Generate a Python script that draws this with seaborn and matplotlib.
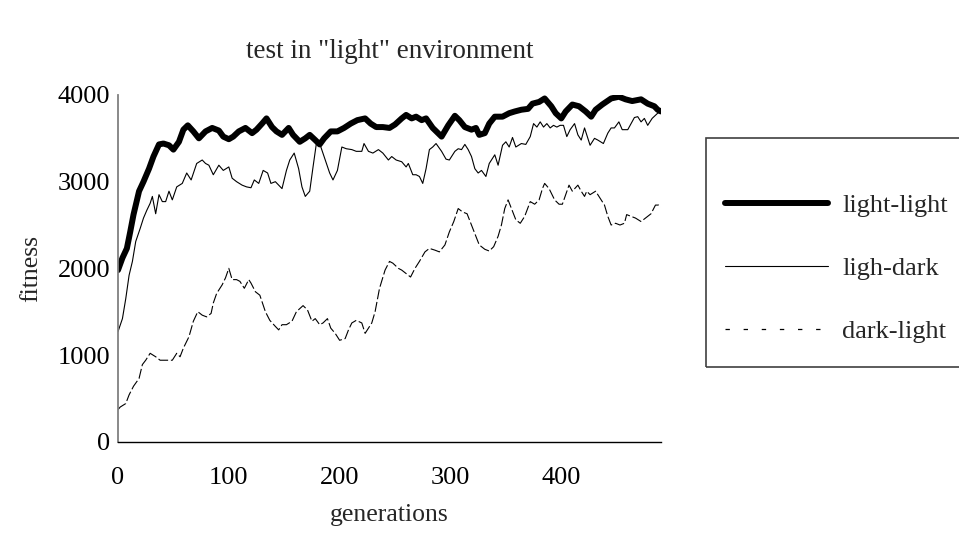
import numpy as np
import pandas as pd
import matplotlib
matplotlib.use("Agg")
import matplotlib.pyplot as plt
from matplotlib.lines import Line2D
from matplotlib.patches import Rectangle
import seaborn as sns

# data (generation, fitness)
ll_gen = [0, 4, 8, 11, 14, 19, 23, 28, 32, 37,
          41, 46, 50, 55, 59, 63, 68, 73, 79, 85,
          91, 95, 100, 104, 109, 115, 121, 125, 130, 134,
          139, 143, 148, 154, 158, 164, 169, 173, 178, 182,
          186, 192, 198, 204, 210, 216, 223, 228, 233, 239,
          245, 250, 256, 260, 265, 269, 274, 278, 284, 292,
          298, 304, 308, 313, 319, 323, 326, 331, 335, 340,
          347, 353, 358, 364, 370, 374, 380, 385, 391, 395,
          400, 404, 410, 416, 422, 427, 431, 437, 445, 452,
          458, 464, 472, 478, 484, 487, 490]
ll_fit = [1980, 2120, 2230, 2420, 2620, 2890, 3000, 3150, 3290, 3430,
          3440, 3420, 3370, 3460, 3600, 3650, 3580, 3500, 3580, 3620,
          3590, 3520, 3490, 3520, 3580, 3620, 3560, 3600, 3670, 3730,
          3630, 3580, 3540, 3620, 3540, 3460, 3500, 3540, 3480, 3430,
          3500, 3580, 3580, 3620, 3670, 3710, 3730, 3670, 3630, 3630,
          3620, 3660, 3730, 3770, 3730, 3750, 3710, 3730, 3620, 3520,
          3650, 3760, 3710, 3630, 3600, 3620, 3540, 3560, 3670, 3750,
          3750, 3790, 3810, 3830, 3840, 3900, 3920, 3960, 3870, 3790,
          3730, 3810, 3890, 3870, 3810, 3750, 3830, 3890, 3960, 3980,
          3950, 3930, 3950, 3900, 3870, 3830, 3810]

ld_gen = [0, 4, 7, 10, 13, 16, 20, 23, 26, 29,
          31, 34, 37, 40, 43, 46, 49, 53, 58, 62,
          66, 71, 76, 79, 82, 86, 91, 95, 100, 103,
          107, 112, 116, 120, 123, 127, 131, 135, 138, 142,
          148, 152, 155, 159, 163, 166, 169, 173, 176, 179,
          182, 187, 191, 194, 198, 202, 206, 211, 215, 220,
          222, 226, 230, 235, 239, 244, 247, 251, 256, 260,
          262, 266, 269, 272, 275, 278, 281, 284, 287, 292,
          296, 299, 304, 307, 310, 313, 316, 319, 322, 325,
          328, 332, 335, 338, 340, 343, 347, 350, 353, 356,
          359, 364, 368, 372, 375, 378, 381, 384, 387, 390,
          393, 396, 399, 402, 405, 408, 412, 415, 418, 421,
          423, 426, 430, 433, 438, 442, 445, 448, 452, 455,
          460, 463, 466, 469, 472, 475, 478, 482, 487, 490]
ld_fit = [1270, 1420, 1650, 1920, 2080, 2310, 2460, 2580, 2670, 2750,
          2830, 2630, 2850, 2770, 2770, 2890, 2790, 2940, 2980, 3100,
          3020, 3210, 3250, 3210, 3190, 3080, 3190, 3130, 3170, 3040,
          3000, 2960, 2940, 2930, 3020, 2980, 3130, 3100, 2980, 3000,
          2920, 3130, 3250, 3330, 3150, 2940, 2830, 2890, 3170, 3440,
          3440, 3250, 3100, 3020, 3130, 3400, 3380, 3370, 3350, 3350,
          3440, 3350, 3330, 3370, 3330, 3250, 3290, 3250, 3230, 3170,
          3210, 3080, 3080, 3060, 2980, 3150, 3370, 3400, 3440, 3350,
          3260, 3250, 3350, 3380, 3370, 3430, 3370, 3290, 3150, 3100,
          3130, 3060, 3210, 3270, 3310, 3190, 3420, 3460, 3400, 3510,
          3400, 3440, 3430, 3520, 3670, 3630, 3690, 3630, 3670, 3620,
          3650, 3630, 3650, 3650, 3520, 3600, 3670, 3540, 3480, 3620,
          3540, 3420, 3500, 3480, 3440, 3560, 3620, 3620, 3690, 3600,
          3600, 3670, 3740, 3750, 3690, 3730, 3650, 3730, 3790, 3810]

dl_gen = [0, 2, 7, 10, 14, 19, 22, 25, 29, 34,
          38, 43, 49, 53, 56, 59, 64, 68, 72, 76,
          80, 84, 86, 89, 94, 97, 100, 103, 107, 110,
          114, 118, 120, 124, 128, 133, 137, 142, 145, 148,
          152, 157, 161, 167, 171, 175, 178, 182, 185, 189,
          192, 196, 200, 205, 208, 211, 215, 220, 223, 226,
          229, 232, 236, 241, 245, 248, 253, 256, 260, 264,
          268, 272, 277, 281, 286, 290, 295, 299, 303, 307,
          311, 315, 319, 322, 326, 331, 335, 339, 343, 346,
          349, 352, 355, 359, 363, 367, 372, 376, 380, 383,
          385, 389, 394, 398, 401, 404, 407, 410, 415, 418,
          421, 423, 426, 431, 435, 439, 442, 445, 449, 453,
          457, 459, 463, 467, 472, 476, 481, 485, 488, 490]
dl_fit = [370, 400, 440, 540, 640, 730, 890, 940, 1020, 980,
          940, 940, 940, 1020, 980, 1080, 1210, 1390, 1500, 1460,
          1440, 1480, 1600, 1710, 1810, 1890, 2000, 1870, 1870, 1850,
          1770, 1870, 1830, 1730, 1690, 1500, 1400, 1330, 1290, 1350,
          1350, 1390, 1500, 1570, 1520, 1390, 1420, 1350, 1370, 1420,
          1310, 1250, 1170, 1190, 1290, 1370, 1400, 1370, 1250, 1310,
          1370, 1500, 1770, 1980, 2080, 2060, 2000, 1980, 1940, 1900,
          2000, 2080, 2190, 2230, 2210, 2190, 2270, 2420, 2540, 2690,
          2650, 2630, 2500, 2400, 2270, 2220, 2200, 2250, 2370, 2500,
          2690, 2790, 2690, 2560, 2520, 2600, 2770, 2740, 2790, 2920,
          2980, 2920, 2790, 2740, 2740, 2850, 2960, 2890, 2960, 2890,
          2830, 2890, 2850, 2890, 2810, 2730, 2600, 2500, 2520, 2500,
          2520, 2620, 2600, 2580, 2540, 2580, 2630, 2730, 2730, 2710]

labels = ["light-light", "ligh-dark", "dark-light"]
x_ticks = [0, 100, 200, 300, 400]
y_ticks = [0, 1000, 2000, 3000, 4000]

sns.set_style("white")
plt.rcParams['font.family'] = ['Liberation Serif', 'DejaVu Serif']

fig = plt.figure(figsize=(9.59, 5.36), dpi=100)
ax = fig.add_axes([118 / 959, 1 - 441.7 / 536, 543 / 959, 346.7 / 536])

dash_plot = (0, (9, 2.5))
sns.lineplot(x=ll_gen, y=ll_fit, ax=ax, color="black", linewidth=4.3,
             solid_capstyle="round", solid_joinstyle="round")
sns.lineplot(x=ld_gen, y=ld_fit, ax=ax, color="black", linewidth=0.8)
sns.lineplot(x=dl_gen, y=dl_fit, ax=ax, color="black", linewidth=0.8,
             linestyle=dash_plot)

ax.set_xlim(0, 490)
ax.set_ylim(0, 4000)
ax.set_xticks(x_ticks)
ax.set_yticks(y_ticks)
ax.tick_params(axis="x", direction="inout", length=8, width=0.8, colors="black",
               labelsize=19, pad=14)
ax.tick_params(axis="y", direction="inout", length=9, width=0.8, colors="black",
               labelsize=19, pad=1)
for s in ["top", "right"]:
    ax.spines[s].set_visible(False)
ax.spines["left"].set_color("#808080")
ax.spines["left"].set_linewidth(1.3)
ax.spines["bottom"].set_color("black")
ax.spines["bottom"].set_linewidth(1.0)

ax.set_xlabel("generations", fontsize=18.5, labelpad=11)
ax.set_ylabel("fitness", fontsize=18.5)
ax.yaxis.set_label_coords(-0.14, 0.5)
fig.text(389.5 / 959, 1 - 51 / 536, 'test in "light" environment', fontsize=19.5,
         ha="center", va="center")

# legend box (runs off the right edge like the original)
fig.patches.append(Rectangle((706 / 959, 1 - 367 / 536), 270 / 959, 229 / 536,
                             transform=fig.transFigure, fill=False,
                             edgecolor="#404040", linewidth=1.2))
handles = [Line2D([], [], color="black", linewidth=4.3, solid_capstyle="round"),
           Line2D([], [], color="black", linewidth=0.8),
           Line2D([], [], color="black", linewidth=0.9, linestyle=(0, (3.5, 11)))]
fig.legend(handles, labels, loc="center left", bbox_to_anchor=(725 / 959, 1 - 268.5 / 536),
           frameon=False, fontsize=19, handlelength=3.9, handletextpad=0.55,
           labelspacing=1.5, borderpad=0, borderaxespad=0)

fig.savefig("out.png", dpi=100)
